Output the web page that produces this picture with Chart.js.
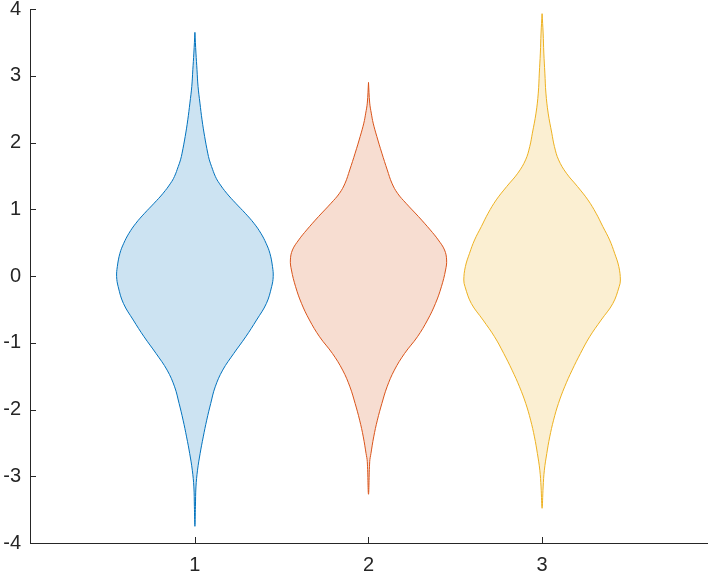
<!DOCTYPE html>
<html>
<head>
<meta charset="utf-8">
<script src="https://cdn.jsdelivr.net/npm/chart.js@4.4.1/dist/chart.umd.min.js"></script>
<style>
  html, body { margin: 0; padding: 0; background: #fff; }
  #wrap { width: 709px; height: 576px; }
</style>
</head>
<body>
<div id="wrap"><canvas id="violinChart" width="709" height="576"></canvas></div>
<script>
// group positions and tick labels
const groupPositions = [1, 2, 3];
const xTicks = [1, 2, 3];
const yTicks = [-4, -3, -2, -1, 0, 1, 2, 3, 4];

// violin 1: y levels (top to bottom) and half widths (x units)
const violin1Y = [3.65, 3.34, 3.09, 2.84, 2.59, 2.34, 2.09, 1.84, 1.74, 1.64, 1.49, 1.39, 1.24, 1.09, 0.94, 0.79, 0.64, 0.49, 0.34, 0.14, -0.01,
  -0.16, -0.41, -0.66, -0.91, -1.16, -1.41, -1.66, -1.91, -2.16, -2.41, -2.66, -2.91, -3.16, -3.45, -3.75];
const violin1W = [0, 0.006, 0.012, 0.018, 0.029, 0.041, 0.056, 0.074, 0.083, 0.096, 0.118, 0.140, 0.183, 0.235, 0.290, 0.340, 0.380, 0.410, 0.432, 0.447, 0.451,
  0.442, 0.412, 0.355, 0.293, 0.224, 0.160, 0.117, 0.091, 0.068, 0.048, 0.030, 0.015, 0.006, 0.003, 0];

// violin 2
const violin2Y = [2.90, 2.59, 2.44, 2.29, 2.09, 1.84, 1.59, 1.39, 1.24, 1.09, 0.89, 0.69, 0.54, 0.39, 0.24, 0.09,
  -0.16, -0.41, -0.66, -0.91, -1.16, -1.41, -1.66, -1.91, -2.16, -2.41, -2.66, -2.78, -3.27];
const violin2W = [0, 0.007, 0.016, 0.027, 0.048, 0.077, 0.108, 0.135, 0.167, 0.216, 0.288, 0.356, 0.402, 0.438, 0.450, 0.444,
  0.420, 0.386, 0.340, 0.282, 0.208, 0.149, 0.107, 0.077, 0.051, 0.030, 0.014, 0.007, 0];

// violin 3
const violin3Y = [3.93, 3.64, 3.34, 3.04, 2.74, 2.44, 2.14, 1.94, 1.74, 1.54, 1.34, 1.14, 0.94, 0.74, 0.54, 0.34, 0.14, -0.06,
  -0.16, -0.41, -0.66, -0.91, -1.16, -1.41, -1.66, -1.91, -2.16, -2.41, -2.66, -2.91, -3.16, -3.48];
const violin3W = [0, 0.006, 0.010, 0.016, 0.022, 0.035, 0.056, 0.071, 0.095, 0.140, 0.204, 0.264, 0.311, 0.350, 0.389, 0.418, 0.442, 0.451,
  0.444, 0.408, 0.340, 0.274, 0.221, 0.173, 0.130, 0.094, 0.066, 0.044, 0.027, 0.013, 0.006, 0];

const lineColors = ['#0072BD', '#D95319', '#EDB120'];
const fillColors = ['rgba(0,114,189,0.2)', 'rgba(217,83,25,0.2)', 'rgba(237,177,32,0.2)'];

// closed outline: right side down, left side back up
function outline(center, ys, ws) {
    const pts = [];
    for (let i = 0; i < ys.length; i++) pts.push({ x: center + ws[i], y: ys[i] });
    for (let i = ys.length - 2; i >= 0; i--) pts.push({ x: center - ws[i], y: ys[i] });
    return pts;
}

const violins = [[violin1Y, violin1W], [violin2Y, violin2W], [violin3Y, violin3W]];
const datasets = violins.map((v, i) => ({
    data: outline(groupPositions[i], v[0], v[1]),
    showLine: true,
    borderColor: lineColors[i],
    backgroundColor: fillColors[i],
    borderWidth: 1,
    pointRadius: 0,
    tension: 0.4,
    fill: 'shape'
}));

const axisColor = '#262626';
const tickFont = { family: 'Liberation Sans, Arial, sans-serif', size: 20 };

// MATLAB style ticks pointing into the plot area
const innerTicks = {
    id: 'innerTicks',
    afterDraw(chart) {
        const { ctx, chartArea, scales } = chart;
        ctx.save();
        ctx.strokeStyle = axisColor;
        ctx.lineWidth = 1;
        ctx.beginPath();
        xTicks.forEach(v => {
            const px = Math.round(scales.x.getPixelForValue(v)) + 0.5;
            ctx.moveTo(px, chartArea.bottom);
            ctx.lineTo(px, chartArea.bottom - 6);
        });
        yTicks.forEach(v => {
            const py = Math.round(scales.y.getPixelForValue(v)) + 0.5;
            ctx.moveTo(chartArea.left, py);
            ctx.lineTo(chartArea.left + 6, py);
        });
        ctx.stroke();
        ctx.restore();
    }
};

new Chart(document.getElementById('violinChart'), {
    type: 'scatter',
    data: { datasets },
    options: {
        responsive: false,
        animation: false,
        layout: { padding: { top: 9, right: 2, left: 0, bottom: 0 } },
        plugins: { legend: { display: false }, tooltip: { enabled: false } },
        scales: {
            x: {
                type: 'linear',
                min: 0.05,
                max: 3.95,
                afterBuildTicks: s => { s.ticks = xTicks.map(v => ({ value: v })); },
                afterFit: s => { s.height = 33; s.paddingLeft = 0; s.paddingRight = 0; },
                grid: { drawOnChartArea: false, drawTicks: false },
                border: { color: axisColor, width: 1 },
                ticks: { color: axisColor, padding: 10, font: tickFont }
            },
            y: {
                type: 'linear',
                min: -4,
                max: 4,
                afterBuildTicks: s => { s.ticks = yTicks.map(v => ({ value: v })); },
                afterFit: s => { s.width = 30; s.paddingTop = 0; s.paddingBottom = 0; },
                grid: { drawOnChartArea: false, drawTicks: false },
                border: { color: axisColor, width: 1 },
                ticks: { color: axisColor, padding: 9, font: tickFont }
            }
        }
    },
    plugins: [innerTicks]
});
</script>
</body>
</html>
